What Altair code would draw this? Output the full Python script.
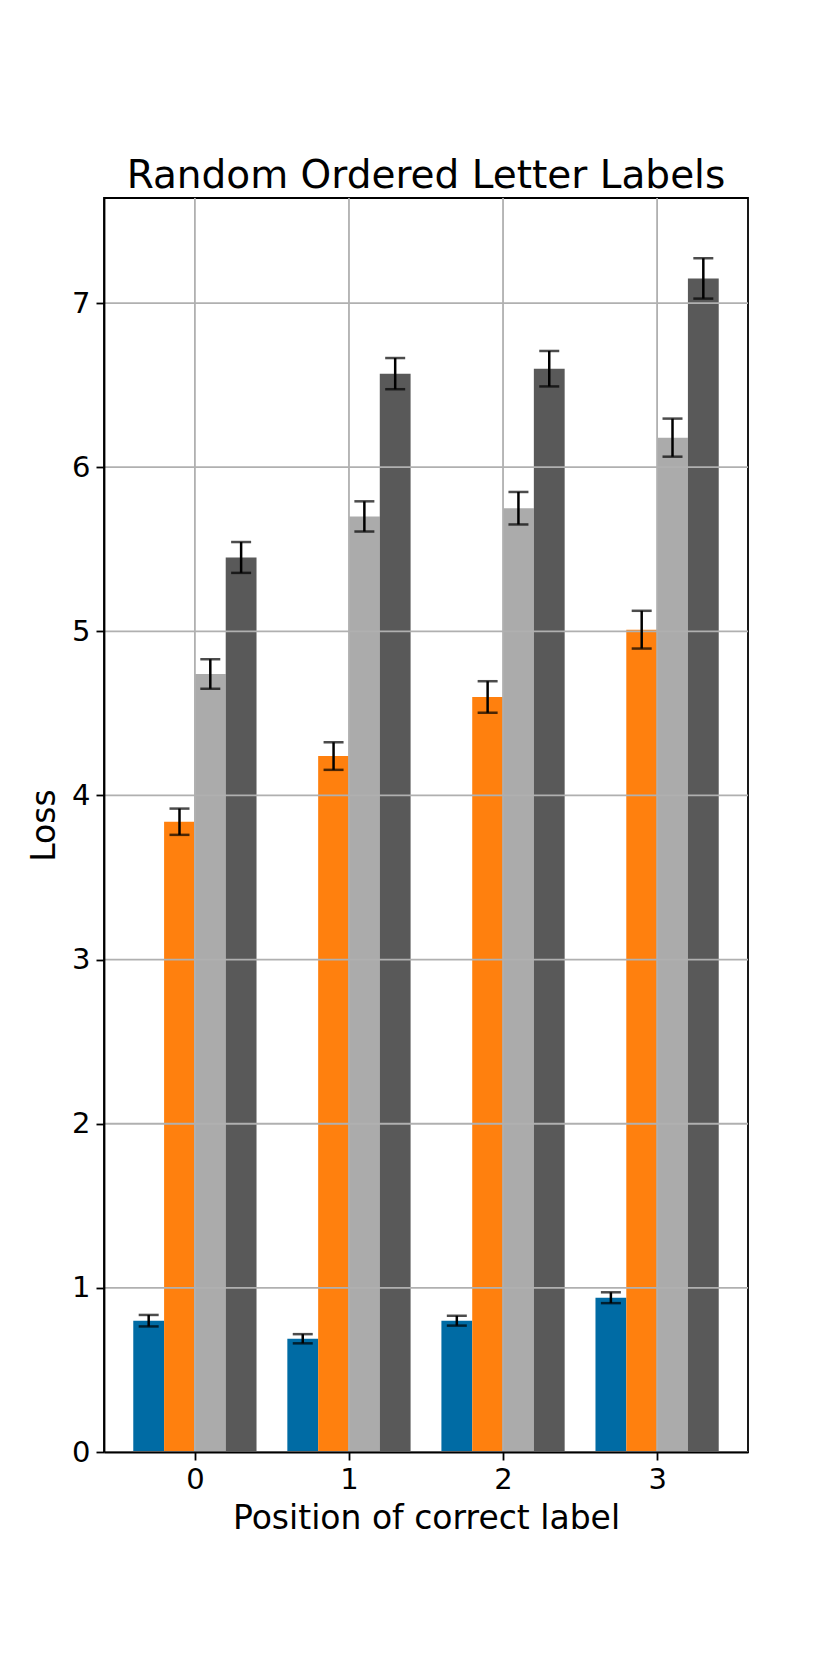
import altair as alt
import pandas as pd

# ---- data ----
positions = [0, 1, 2, 3]
series = ["S1", "S2", "S3", "S4"]
colors = ["#006BA4", "#FF800E", "#ABABAB", "#595959"]

s1_vals = [0.80, 0.69, 0.80, 0.94]
s1_errs = [0.035, 0.028, 0.030, 0.033]
s2_vals = [3.84, 4.24, 4.60, 5.01]
s2_errs = [0.080, 0.084, 0.096, 0.115]
s3_vals = [4.74, 5.70, 5.75, 6.18]
s3_errs = [0.090, 0.092, 0.099, 0.116]
s4_vals = [5.45, 6.57, 6.60, 7.15]
s4_errs = [0.094, 0.095, 0.108, 0.123]

x_ticks = [0, 1, 2, 3]
y_ticks = [0, 1, 2, 3, 4, 5, 6, 7]

title_text = "Random Ordered Letter Labels"
x_title = "Position of correct label"
y_title = "Loss"

# ---- build table ----
bar_width = 0.2
offsets = [-0.3, -0.1, 0.1, 0.3]
vals = [s1_vals, s2_vals, s3_vals, s4_vals]
errs = [s1_errs, s2_errs, s3_errs, s4_errs]
rows = []
for si, name in enumerate(series):
    for pi, p in enumerate(positions):
        c = p + offsets[si]
        v = vals[si][pi]
        e = errs[si][pi]
        rows.append({"series": name, "pos": p, "xc": c,
                     "x0": c - bar_width / 2, "x1": c + bar_width / 2,
                     "base": 0.0, "value": v, "lo": v - e, "hi": v + e})
df = pd.DataFrame(rows)

FONT = "DejaVu Sans"
xdom = [-0.59, 3.59]
ydom = [0, 7.64]

xscale = alt.Scale(domain=xdom, nice=False, zero=False)
yscale = alt.Scale(domain=ydom, nice=False, zero=False)

xaxis = alt.Axis(values=x_ticks, grid=False, title=x_title, format="d",
                 labelFont=FONT, labelFontSize=29, labelColor="black",
                 titleFont=FONT, titleFontSize=33, titleFontWeight="normal", titleColor="black",
                 tickColor="black", tickSize=8, tickWidth=1.8,
                 domainColor="black", domainWidth=1.8, labelPadding=5, titlePadding=8,
                 zindex=1)
yaxis = alt.Axis(values=y_ticks, grid=False, title=y_title, format="d",
                 labelFont=FONT, labelFontSize=29, labelColor="black",
                 titleFont=FONT, titleFontSize=33, titleFontWeight="normal", titleColor="black",
                 tickColor="black", tickSize=8, tickWidth=1.8,
                 domainColor="black", domainWidth=1.8, labelPadding=6, titlePadding=10,
                 zindex=1)


def X(field):
    return alt.X(field, scale=xscale, axis=xaxis, title=x_title)


def Y(field):
    return alt.Y(field, scale=yscale, axis=yaxis, title=y_title)


base = alt.Chart(df)

bars = base.mark_bar(stroke=None).encode(
    x=X("x0:Q"),
    x2="x1:Q",
    y=Y("base:Q"),
    y2="value:Q",
    color=alt.Color("series:N", scale=alt.Scale(domain=series, range=colors), legend=None),
)

xgrid = alt.Chart(pd.DataFrame({"g": x_ticks})).mark_rule(color="#b0b0b0", strokeWidth=1.8).encode(
    x=X("g:Q")
)
ygrid = alt.Chart(pd.DataFrame({"g": y_ticks})).mark_rule(color="#b0b0b0", strokeWidth=1.8).encode(
    y=Y("g:Q")
)

err_rule = base.mark_rule(color="black", strokeWidth=2.5).encode(
    x=X("xc:Q"),
    y=Y("lo:Q"),
    y2="hi:Q",
)
cap_lo = base.mark_tick(color="black", orient="horizontal", size=20, thickness=2.5).encode(
    x=X("xc:Q"),
    y=Y("lo:Q"),
)
cap_hi = base.mark_tick(color="black", orient="horizontal", size=20, thickness=2.5).encode(
    x=X("xc:Q"),
    y=Y("hi:Q"),
)

chart = alt.layer(bars, xgrid, ygrid, err_rule, cap_lo, cap_hi).properties(
    width=644, height=1254,
    background="white",
    title=alt.TitleParams(title_text, font=FONT, fontSize=39, fontWeight="normal",
                          color="black", anchor="middle", offset=1),
    autosize=alt.AutoSizeParams(type="none"),
    padding={"left": 96, "top": 190, "right": 70, "bottom": 195},
).configure_view(stroke="black", strokeWidth=1.8)

chart.save("out.html", embed_options={"renderer": "svg", "actions": False})
